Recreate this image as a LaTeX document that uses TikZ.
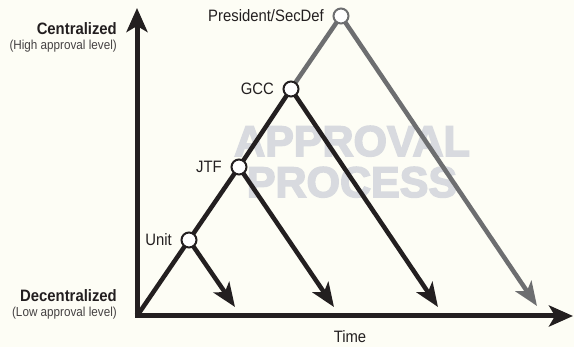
\documentclass[tikz,border=0pt]{standalone}
\usepackage{fontspec}
\setmainfont{Liberation Sans}[FakeStretch=0.9]
\newfontfamily\markfont{Liberation Sans}[BoldFeatures={FakeBold=3.5}]
\usetikzlibrary{arrows.meta,positioning,backgrounds}
\definecolor{apink}{RGB}{35,31,32}
\definecolor{apgray}{RGB}{109,110,112}
\definecolor{apmark}{RGB}{216,218,223}
\definecolor{appaper}{RGB}{253,253,245}
\tikzset{
  apaxis/.style={draw=apink, line width=5pt, -{Stealth[length=24pt,width=21pt,inset=6pt]}},
  branch/.style={draw=apink, line width=4.5pt},
  barr/.style={branch, -{Stealth[length=24pt,width=19pt,inset=6pt]}},
  gbranch/.style={branch, draw=apgray},
  garr/.style={barr, draw=apgray},
  lvl/.style={circle, draw=apink, fill=white, line width=2pt, minimum size=15pt, inner sep=0pt},
  glvl/.style={lvl, draw=apgray},
  lbl/.style={font=\fontsize{16.5}{18}\selectfont, text=apink, inner sep=2pt},
  ttl/.style={font=\bfseries\fontsize{16.5}{18}\selectfont, text=apink, inner sep=0pt, anchor=base east},
  sublbl/.style={font=\fontsize{13}{15}\selectfont, text=apink!85, inner sep=0pt, anchor=base east},
  wmark/.style={font=\markfont\bfseries\fontsize{43}{43}\selectfont, text=apmark, inner sep=0pt, anchor=base}
}
\begin{document}
\begin{tikzpicture}[x=1pt, y=-1pt, node distance=6.5pt]
  \useasboundingbox (0,0) rectangle (574,347);
  \coordinate (o) at (137,316);
  \coordinate (ytop) at (137,8);
  \coordinate (xend) at (573,316);
  \node[lvl] (unit) at (189,240) {};
  \node[lvl] (jtf) at (239,167) {};
  \node[lvl] (gcc) at (291,89) {};
  \node[glvl] (pres) at (341,16) {};
  \coordinate (tu) at (235,307);
  \coordinate (tj) at (334,307);
  \coordinate (tg) at (438,307);
  \coordinate (tp) at (537,306);
  \node[lbl, left=of unit] (unitlbl) {Unit};
  \node[lbl, left=of jtf] (jtflbl) {JTF};
  \node[lbl, left=of gcc] (gcclbl) {GCC};
  \node[lbl, left=of pres] (preslbl) {President/SecDef};
  \node[ttl] (cen) at (117,35) {Centralized};
  \node[sublbl] (censub) at (117,50) {(High approval level)};
  \node[ttl] (dec) at (117,302) {Decentralized};
  \node[sublbl] (decsub) at (117,317) {(Low approval level)};
  \node[lbl, anchor=base, inner sep=0pt] (time) at (350,343) {Time};
  \begin{scope}[on background layer]
    \fill[appaper] (0,0) rectangle (574,347);
    \node[wmark] (wmA) at (352,156) {APPROVAL};
    \node[wmark] (wmB) at (352,197) {PROCESS};
    \draw[branch] (o) -- (unit.center) -- (jtf.center) -- (gcc.center);
    \draw[gbranch] (gcc.center) -- (pres.center);
    \draw[barr] (unit.center) -- (tu);
    \draw[barr] (jtf.center) -- (tj);
    \draw[barr] (gcc.center) -- (tg);
    \draw[garr] (pres.center) -- (tp);
  \end{scope}
  \draw[apaxis] ([yshift=2.5pt]o) -- (ytop);
  \draw[apaxis] ([xshift=-2.5pt]o) -- (xend);
\end{tikzpicture}
\end{document}
